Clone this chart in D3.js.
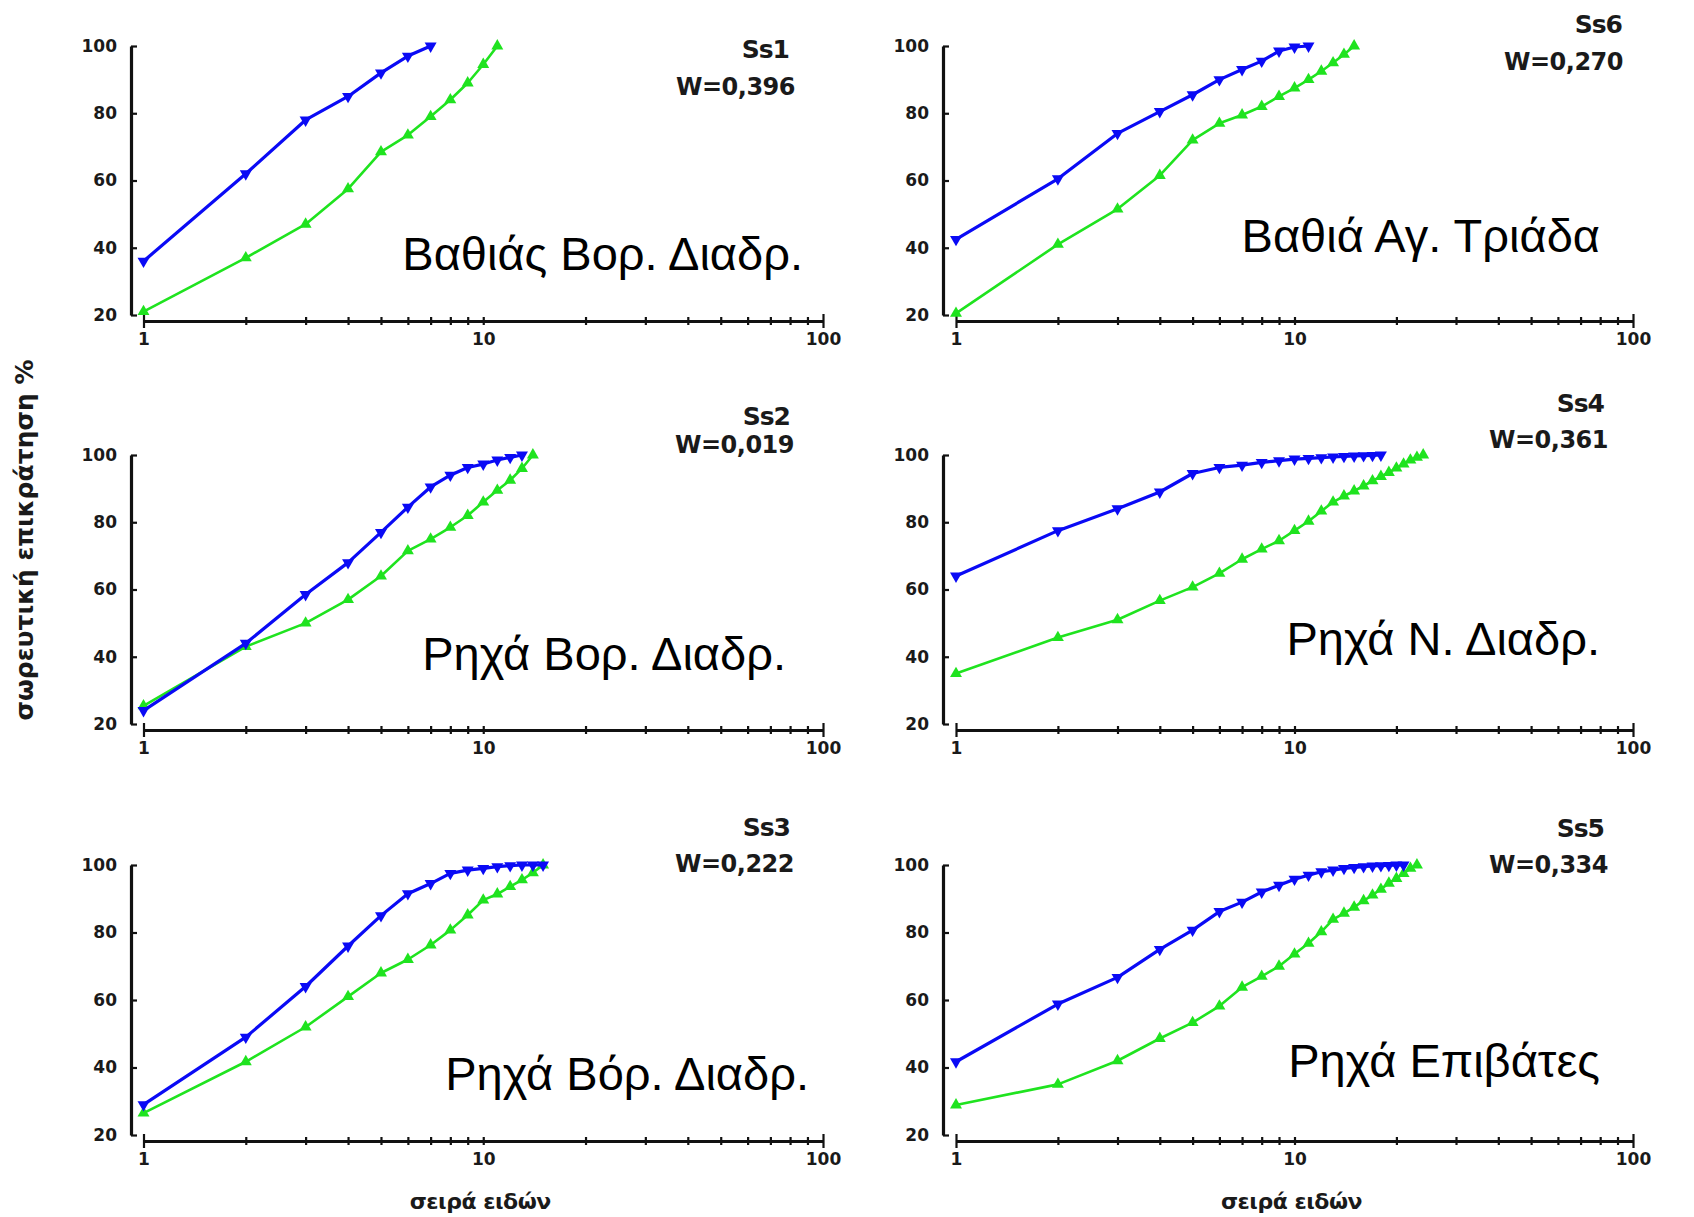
<!DOCTYPE html>
<html>
<head>
<meta charset="utf-8">
<script src="https://cdn.jsdelivr.net/npm/d3@7"></script>
<style>
  body { margin: 0; background: #fff; }
  svg { display: block; }
  .small { font-family: "DejaVu Sans", sans-serif; font-weight: bold; fill: #1a1a1a; }
  .big { font-family: "Liberation Sans", Arial, sans-serif; fill: #000; }
</style>
</head>
<body>
<svg id="chart" width="1694" height="1217"></svg>
<script>

// cumulative dominance %, by species rank (1, 2, 3 ...)
var panelNames = ["Ss1", "Ss6", "Ss2", "Ss4", "Ss3", "Ss5"];
var wValues = ["W=0,396", "W=0,270", "W=0,019", "W=0,361", "W=0,222", "W=0,334"];
var siteNames = ["Βαθιάς Βορ. Διαδρ.", "Βαθιά Αγ. Τριάδα", "Ρηχά Βορ. Διαδρ.", "Ρηχά Ν. Διαδρ.", "Ρηχά Βόρ. Διαδρ.", "Ρηχά Επιβάτες"];

var blue_Ss1 = [36, 62, 78, 85, 92, 97, 100];
var green_Ss1 = [21, 37, 47, 57.5, 68.5, 73.5, 79, 84, 89, 94.5, 100];

var blue_Ss6 = [42.5, 60.5, 74, 80.5, 85.5, 90, 93, 95.5, 98.5, 99.7, 100];
var green_Ss6 = [20.5, 41, 51.5, 61.5, 72, 77, 79.5, 82, 85, 87.5, 90, 92.5, 95, 97.5, 100];

var blue_Ss2 = [24, 44, 58.5, 68, 77, 84.5, 90.5, 94, 96.3, 97.3, 98.5, 99.3, 100];
var green_Ss2 = [25.4, 43, 50, 57, 64, 71.5, 75, 78.5, 82, 86, 89.5, 92.5, 96, 100];

var blue_Ss4 = [64, 77.5, 84, 89, 94.5, 96.3, 97, 97.8, 98.3, 98.8, 99, 99.2, 99.4, 99.6, 99.7, 99.8, 99.9, 100];
var green_Ss4 = [35, 45.7, 51, 56.7, 60.7, 64.8, 69, 72, 74.5, 77.5, 80.3, 83.3, 86, 87.8, 89.3, 90.8, 92.3, 93.6, 94.8, 96.1, 97.3, 98.5, 99.3, 100];

var blue_Ss3 = [29, 49, 64, 76, 85, 91.5, 94.5, 97.5, 98.5, 99, 99.5, 99.8, 100, 100, 100];
var green_Ss3 = [26.5, 41.7, 52, 61, 68, 72, 76.3, 80.7, 85.2, 89.6, 91.4, 93.6, 95.6, 97.7, 100];

var blue_Ss5 = [41.7, 58.8, 66.7, 75, 80.7, 86.2, 89, 92, 94, 95.8, 97, 98, 98.5, 99, 99.3, 99.5, 99.7, 99.8, 99.9, 100, 100];
var green_Ss5 = [28.9, 35, 42, 48.6, 53.3, 58.2, 63.8, 67, 70, 73.6, 76.8, 80.2, 83.9, 85.7, 87.5, 89.4, 91.1, 92.8, 94.6, 96, 97.5, 99, 100];

var blueSeries = [blue_Ss1, blue_Ss6, blue_Ss2, blue_Ss4, blue_Ss3, blue_Ss5];
var greenSeries = [green_Ss1, green_Ss6, green_Ss2, green_Ss4, green_Ss3, green_Ss5];

var xTickValues = [1, 2, 3, 4, 5, 6, 7, 8, 9, 10, 20, 30, 40, 50, 60, 70, 80, 90, 100];
var xTickLabels = [1, 10, 100];
var yTickValues = [20, 40, 60, 80, 100];

var xTitle = "σειρά ειδών";
var yTitle = "σωρευτική επικράτηση %";

// layout of the 3x2 grid
var cols = [{x0: 143.5, x1: 823, axisX: 131}, {x0: 956, x1: 1633, axisX: 943}];
var rows = [{top: 46, bottom: 315}, {top: 455, bottom: 724}, {top: 865, bottom: 1135}];
// right edge / baseline of the labels in each panel
var labelPos = [
  {ssX: 789, ssY: 58, wX: 795, wY: 95, nX: 803, nY: 270},
  {ssX: 1622, ssY: 33, wX: 1623, wY: 70, nX: 1600, nY: 252},
  {ssX: 790, ssY: 425, wX: 794, wY: 453, nX: 786, nY: 670},
  {ssX: 1604, ssY: 412, wX: 1608, wY: 448, nX: 1600, nY: 655},
  {ssX: 790, ssY: 836, wX: 794, wY: 872, nX: 809, nY: 1090},
  {ssX: 1604, ssY: 837, wX: 1608, wY: 873, nX: 1600, nY: 1077}
];

var BLUE = "#0a0af5";
var GREEN = "#1fe31f";

var svg = d3.select("svg#chart");

panelNames.forEach(function(name, i) {
  var col = cols[i % 2];
  var row = rows[Math.floor(i / 2)];
  drawPanel(i, col, row);
});

function drawPanel(i, col, row) {
  var x = d3.scaleLog().domain([1, 100]).range([col.x0, col.x1]);
  var y = d3.scaleLinear().domain([20, 100]).range([row.bottom, row.top]);
  var g = svg.append("g").attr("id", "panel" + panelNames[i]);

  // x axis, sits a little below y=20
  var xAxis = g.append("g")
    .attr("transform", "translate(0," + (row.bottom + 6) + ")")
    .call(d3.axisBottom(x)
      .tickValues(xTickValues)
      .tickSizeInner(4)
      .tickSizeOuter(0)
      .tickFormat(function(d) { return xTickLabels.indexOf(d) >= 0 ? d : ""; }));
  xAxis.select(".domain").attr("stroke", "#111").attr("stroke-width", 3.2);
  xAxis.selectAll(".tick line")
    .attr("y1", function(d) { return d == 1 || d == 100 ? -7 : -4; })
    .attr("y2", function(d) { return d == 1 || d == 100 ? 7 : 4; })
    .attr("stroke", "#111").attr("stroke-width", 2.2);
  xAxis.selectAll(".tick text")
    .attr("y", 12)
    .attr("fill", "#1a1a1a")
    .style("font-size", "17px")
    .style("font-family", "'DejaVu Sans', sans-serif")
    .style("font-weight", "bold");

  // y axis, sits left of x=1
  var yAxis = g.append("g")
    .attr("transform", "translate(" + col.axisX + ",0)")
    .call(d3.axisLeft(y)
      .tickValues(yTickValues)
      .tickSizeInner(6)
      .tickSizeOuter(0)
      .tickPadding(8));
  yAxis.select(".domain").attr("stroke", "#111").attr("stroke-width", 3.2);
  yAxis.selectAll(".tick line").attr("x2", 6).attr("stroke", "#111").attr("stroke-width", 2.2);
  yAxis.selectAll(".tick text")
    .style("font-size", "17px")
    .style("font-family", "'DejaVu Sans', sans-serif")
    .style("font-weight", "bold")
    .attr("fill", "#1a1a1a");

  drawSeries(g, x, y, greenSeries[i], GREEN, 2.6, 0);
  drawSeries(g, x, y, blueSeries[i], BLUE, 3.2, 180);

  var lp = labelPos[i];
  g.append("text").attr("class", "small")
    .attr("x", lp.ssX).attr("y", lp.ssY)
    .attr("text-anchor", "end")
    .style("font-size", "25px")
    .style("letter-spacing", "-1px")
    .text(panelNames[i]);
  g.append("text").attr("class", "small")
    .attr("x", lp.wX).attr("y", lp.wY)
    .attr("text-anchor", "end")
    .style("font-size", "24px")
    .style("letter-spacing", "-0.5px")
    .text(wValues[i]);
  g.append("text").attr("class", "big")
    .attr("x", lp.nX).attr("y", lp.nY)
    .attr("text-anchor", "end")
    .style("font-size", "47px")
    .text(siteNames[i]);

  if (i >= 4) {
    g.append("text").attr("class", "small")
      .attr("x", (col.x0 + col.x1) / 2 - 3)
      .attr("y", 1209)
      .attr("text-anchor", "middle")
      .style("font-size", "22px")
      .style("letter-spacing", "-0.5px")
      .text(xTitle);
  }
}

function drawSeries(g, x, y, values, color, width, rotate) {
  var pts = values.map(function(v, k) { return {rank: k + 1, value: v}; });
  var line = d3.line()
    .x(function(d) { return x(d.rank); })
    .y(function(d) { return y(d.value); });

  g.append("path")
    .datum(pts)
    .attr("d", line)
    .attr("fill", "none")
    .attr("stroke", color)
    .attr("stroke-width", width)
    .attr("stroke-linejoin", "round");

  g.selectAll(null)
    .data(pts)
    .enter()
    .append("path")
    .attr("d", d3.symbol().type(d3.symbolTriangle).size(62))
    .attr("transform", function(d) {
      return "translate(" + x(d.rank) + "," + y(d.value) + ") rotate(" + rotate + ")";
    })
    .attr("fill", color);
}

svg.append("text").attr("class", "small")
  .attr("transform", "translate(33,540) rotate(-90)")
  .attr("text-anchor", "middle")
  .style("font-size", "25px")
  .text(yTitle);

</script>
</body>
</html>
